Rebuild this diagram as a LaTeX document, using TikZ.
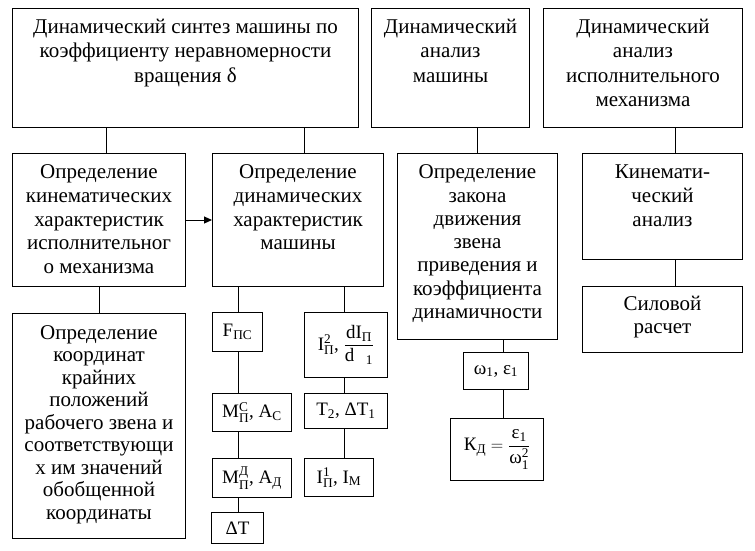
\documentclass[tikz,border=0pt]{standalone}
\usepackage{amsmath}
\usepackage{fontspec}
\setmainfont{Liberation Serif}
\usetikzlibrary{arrows.meta}
\newcommand{\ssp}[3]{$\text{#1}^{\text{#2}}_{\text{#3}}$}
\newcommand{\sbs}[2]{$\text{#1}_{\text{#2}}$}
\newcommand{\fl}{\rule{0pt}{17pt}}
\newcommand{\mybox}[6][]{\node[box,minimum width=#4pt,minimum height=#5pt,#1] (#2) at (#3) {#6};}
\begin{document}
\begin{tikzpicture}[x=1pt,y=-1pt,
  box/.style={draw,line width=1pt,inner sep=0pt,anchor=north west},
  txt/.style={anchor=north,inner sep=0pt,align=center,font=\fontsize{21}{#1}\selectfont},
  txt/.default=24,
  frm/.style={font=\fontsize{19}{22}\selectfont},
  ln/.style={line width=1pt}]
\useasboundingbox (0,0) rectangle (755,550);
% boxes
\mybox{b1}{12,8}{346}{119}{}
\mybox{b2}{371,8}{158}{119}{}
\mybox{b3}{543,8}{199}{119}{}
\mybox{b4}{12,153}{173}{133}{}
\mybox{b5}{212,153}{171}{133}{}
\mybox{b6}{397,153}{160}{186}{}
\mybox{b7}{582,153}{160}{106}{}
\mybox{b8}{582,286}{160}{66}{}
\mybox{b9}{12,313}{173}{225}{}
\mybox[frm]{F}{212,312}{50}{39}{\sbs{F}{ПС}}
\mybox[frm]{I2}{304,312}{83}{65}{\ssp{I}{2}{П}, $\dfrac{\text{dI}_{\text{П}}}{\text{d}\hspace{0.6em}{}_{\text{1}}}$}
\mybox[frm]{MC}{212,393}{79}{38}{\ssp{M}{C}{П}, \sbs{A}{C}}
\mybox[frm]{T}{304,393}{83}{35}{\sbs{T}{2}, \sbs{ΔT}{1}}
\mybox[frm]{MD}{212,458}{79}{39}{\ssp{M}{Д}{П}, \sbs{A}{Д}}
\mybox[frm]{I1}{304,458}{69}{38}{\ssp{I}{1}{П}, \sbs{I}{M}}
\mybox[frm]{DT}{211,512}{52}{31}{ΔT}
\mybox[frm]{W}{463,352}{65}{37}{\sbs{ω}{1}, \sbs{ε}{1}}
\mybox[frm]{K}{450,418}{93}{62}{$\text{К}_{\text{Д}} = \dfrac{\text{ε}_{\text{1}}}{\text{ω}_{\text{1}}^{\text{2}}}$}
% texts
\node[txt=24.2] (t1) at ([yshift=-8.5pt]b1.north) {\fl Динамический синтез машины по\\коэффициенту неравномерности\\вращения δ};
\node[txt=24.2] (t2) at ([yshift=-8.5pt]b2.north) {\fl Динамический\\анализ\\машины};
\node[txt=24.2] (t3) at ([yshift=-8.5pt]b3.north) {\fl Динамический\\анализ\\исполнительного\\механизма};
\node[txt=23.75] (t4) at ([yshift=-8.5pt]b4.north) {\fl Определение\\кинематических\\характеристик\\исполнительног\\о механизма};
\node[txt=23.75] (t5) at ([yshift=-8.5pt]b5.north) {\fl Определение\\динамических\\характеристик\\машины};
\node[txt=23.3] (t6) at ([yshift=-8.5pt]b6.north) {\fl Определение\\закона\\движения\\звена\\приведения и\\коэффициента\\динамичности};
\node[txt=23.75] (t7) at ([yshift=-8.5pt]b7.north) {\fl Кинемати-\\ческий\\анализ};
\node[txt=23.75] (t8) at ([yshift=-7pt]b8.north) {\fl Силовой\\расчет};
\node[txt=22.5] (t9) at ([yshift=-9pt]b9.north) {\fl Определение\\координат\\крайних\\положений\\рабочего звена и\\соответствующи\\х им значений\\обобщенной\\координаты};
% connector x positions
\coordinate (x99) at (99,0);
\coordinate (x106) at (106,0);
\coordinate (x238) at (238,0);
\coordinate (x304) at (304,0);
\coordinate (x344) at (344,0);
\coordinate (x477) at (477,0);
\coordinate (x503) at (503,0);
\coordinate (x675) at (675,0);
\foreach \a/\b/\x in {b1/b4/x106, b1/b5/x304, b2/b6/x477, b3/b7/x675, b7/b8/x675,
  b4/b9/x99, b5/F/x238, b5/I2/x344, F/MC/x238, MC/MD/x238, MD/DT/x238,
  I2/T/x344, T/I1/x344, b6/W/x503, W/K/x503}
  \draw[ln] (\a.south -| \x) -- (\b.north -| \x);
\draw[ln,-{Triangle[length=8pt,width=7pt]}] (b4.east) -- (b5.west);
\end{tikzpicture}
\end{document}
